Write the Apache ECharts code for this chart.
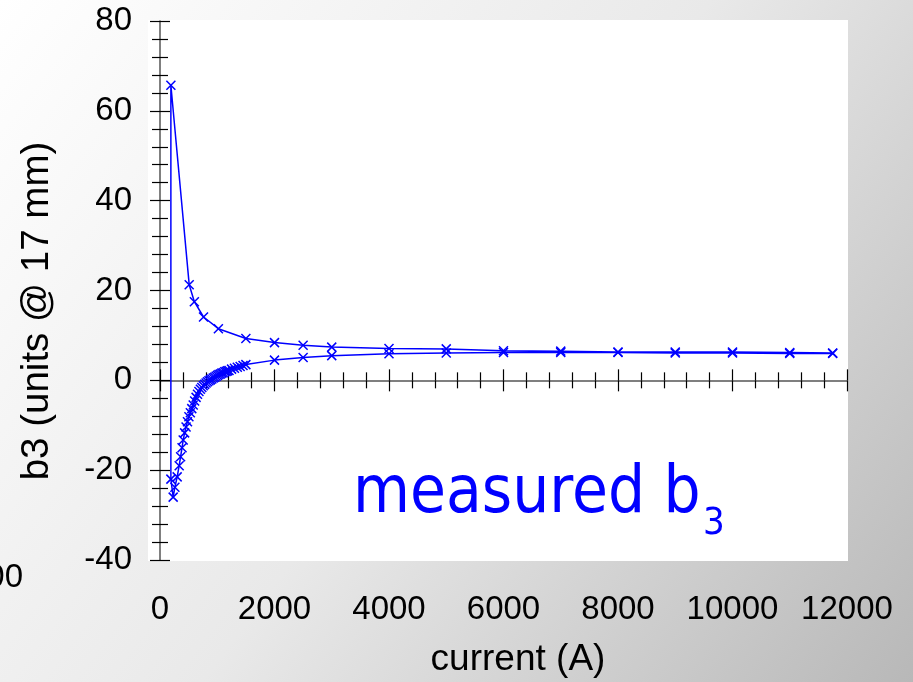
<!DOCTYPE html>
<html>
<head>
<meta charset="utf-8">
<script src="https://cdn.jsdelivr.net/npm/echarts@6/dist/echarts.min.js"></script>
<style>
html,body{margin:0;padding:0;width:913px;height:682px;overflow:hidden;}
#c{width:913px;height:682px;}
</style>
</head>
<body>
<div id="c"></div>
<script>
// Down-ramp branch (from high current back to low current)
var upperCurrent = [11750, 11000, 10000, 9000, 8000, 7000, 6000, 5000, 4000, 3000, 2500, 2000, 1500, 1020, 760, 600, 510, 190];
var upperB = [6.1, 6.2, 6.3, 6.3, 6.3, 6.5, 6.6, 7.0, 7.1, 7.4, 7.8, 8.4, 9.3, 11.5, 14.1, 17.5, 21.3, 65.7];
// Up-ramp branch
var lowerCurrent = [190, 230, 260, 300, 335, 360, 385, 405,
  430, 455, 480, 505, 530, 555, 580, 605, 630, 655, 680, 705, 730, 755, 780, 805, 830, 855, 880, 905, 930, 955, 980, 1005, 1030, 1055, 1080, 1105, 1130, 1155, 1180, 1205,
  1250, 1300, 1350, 1400, 1450, 1500, 2000, 2500, 3000, 4000, 5000, 6000, 7000, 8000, 9000, 10000, 11000, 11750];
var lowerB = [-22.0, -26.0, -23.8, -21.5, -19.0, -17.0, -15.0, -13.3,
  -11.7, -10.4, -9.2, -8.1, -7.2, -6.3, -5.5, -4.6, -3.8, -3.1, -2.5, -2.0, -1.6, -1.2, -0.9, -0.6, -0.3, -0.1, 0.1, 0.3, 0.5, 0.7, 0.9, 1.1, 1.3, 1.4, 1.6, 1.7, 1.9, 2.0, 2.1, 2.2,
  2.5, 2.7, 2.9, 3.1, 3.3, 3.5, 4.5, 5.1, 5.5, 5.9, 6.1, 6.2, 6.2, 6.2, 6.1, 6.1, 6.0, 6.0];
var xTicks = [0, 2000, 4000, 6000, 8000, 10000, 12000];
var yTicks = [-40, -20, 0, 20, 40, 60, 80];

var seriesData = [];
for (var i = 0; i < upperCurrent.length; i++) seriesData.push([upperCurrent[i], upperB[i]]);
for (var j = 0; j < lowerCurrent.length; j++) seriesData.push([lowerCurrent[j], lowerB[j]]);

var FONT = "'Liberation Sans', Arial, sans-serif";
var BFONT = "'DejaVu Sans Condensed', 'DejaVu Sans', sans-serif";
var BLUE = '#0000ff';
var xMin = xTicks[0], xMax = xTicks[xTicks.length - 1], xInt = xTicks[1] - xTicks[0];
var yMin = yTicks[0], yMax = yTicks[yTicks.length - 1], yInt = yTicks[1] - yTicks[0];

function plain(v) { return String(v); }

function xAx(extra) {
  var base = {
    type: 'value', min: xMin, max: xMax, interval: xInt, position: 'bottom',
    splitLine: {show: false},
    axisLabel: {show: false},
    axisLine: {show: false},
    axisTick: {show: false},
    minorTick: {show: false}
  };
  for (var k in extra) base[k] = extra[k];
  return base;
}
function yAx(extra) {
  var base = {
    type: 'value', min: yMin, max: yMax, interval: yInt, position: 'left',
    splitLine: {show: false},
    axisLabel: {show: false},
    axisLine: {show: false},
    axisTick: {show: false},
    minorTick: {show: false}
  };
  for (var k in extra) base[k] = extra[k];
  return base;
}

var chart = echarts.init(document.getElementById('c'), null, {renderer: 'canvas'});
chart.setOption({
  animation: false,
  backgroundColor: {
    type: 'linear', x: 0, y: 0, x2: 1, y2: 1,
    colorStops: [{offset: 0, color: '#ffffff'}, {offset: 0.5, color: '#e9e9e9'}, {offset: 1, color: '#b8b8b8'}]
  },
  grid: {left: 160, right: 66, top: 21, bottom: 122, containLabel: false},
  xAxis: [
    xAx({axisLabel: {show: true, margin: 33, fontSize: 33, color: '#000', fontFamily: FONT, formatter: plain}}),
    xAx({axisLine: {show: true, onZero: true, onZeroAxisIndex: 0, lineStyle: {color: '#555', width: 1.5}},
         axisTick: {show: true, inside: false, length: 11, lineStyle: {color: '#000', width: 1.2}},
         minorTick: {show: true, splitNumber: 5, length: 8, lineStyle: {color: '#000', width: 1.2}}}),
    xAx({axisLine: {show: false, onZero: true, onZeroAxisIndex: 0},
         axisTick: {show: true, inside: true, length: 11, lineStyle: {color: '#000', width: 1.2}},
         minorTick: {show: true, splitNumber: 5, length: 8, lineStyle: {color: '#000', width: 1.2}}})
  ],
  yAxis: [
    yAx({axisLine: {show: true, onZero: false, lineStyle: {color: '#555', width: 1.5}},
         axisLabel: {show: true, margin: 28, fontSize: 33, color: '#000', fontFamily: FONT, formatter: plain},
         axisTick: {show: true, inside: false, length: 10, lineStyle: {color: '#000', width: 1.2}},
         minorTick: {show: true, splitNumber: 5, length: 8, lineStyle: {color: '#000', width: 1.2}}}),
    yAx({axisLine: {show: false, onZero: false},
         axisTick: {show: true, inside: true, length: 10, lineStyle: {color: '#000', width: 1.2}},
         minorTick: {show: true, splitNumber: 5, length: 8, lineStyle: {color: '#000', width: 1.2}}})
  ],
  graphic: [
    {type: 'rect', z: -10, silent: true, shape: {x: 148, y: 20, width: 700, height: 541}, style: {fill: '#ffffff'}},
    {type: 'text', x: 518, y: 660, silent: true,
     style: {text: 'current (A)', font: '37px ' + FONT, fill: '#000', align: 'center', verticalAlign: 'middle'}},
    {type: 'text', x: 37, y: 311, rotation: Math.PI / 2, silent: true,
     style: {text: 'b3 (units @ 17 mm)', font: '38.5px ' + FONT, fill: '#000', align: 'center', verticalAlign: 'middle'}},
    {type: 'text', x: 23, y: 578, silent: true,
     style: {text: '00', font: '33px ' + FONT, fill: '#000', align: 'right', verticalAlign: 'middle'}},
    {type: 'text', x: 353, y: 495, silent: true,
     style: {text: 'measured b', font: '65px ' + BFONT, fill: BLUE, align: 'left', verticalAlign: 'middle'}},
    {type: 'text', x: 703, y: 524, silent: true,
     style: {text: '3', font: '38px ' + BFONT, fill: BLUE, align: 'left', verticalAlign: 'middle'}}
  ],
  series: [{
    type: 'line',
    xAxisIndex: 0, yAxisIndex: 0,
    data: seriesData,
    smooth: false,
    symbol: 'path://M0,0L10,10M10,0L0,10',
    symbolSize: 9,
    showAllSymbol: true,
    lineStyle: {color: BLUE, width: 1.5},
    itemStyle: {color: 'rgba(0,0,0,0)', borderColor: BLUE, borderWidth: 1.5},
    z: 5
  }]
});
</script>
</body>
</html>
